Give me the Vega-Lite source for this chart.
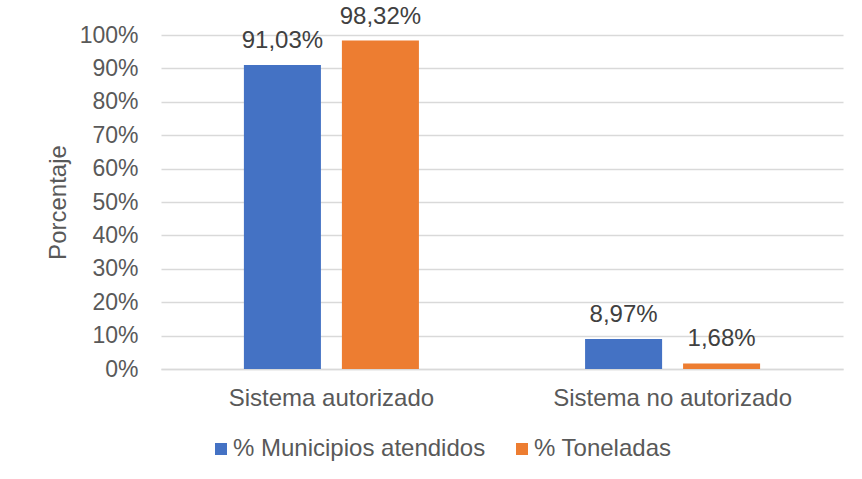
{
  "$schema": "https://vega.github.io/schema/vega-lite/v6.json",
  "width": 682,
  "height": 334,
  "autosize": {"type": "none"},
  "padding": {"left": 161, "top": 35, "right": 19, "bottom": 110},
  "background": "white",
  "config": {
    "locale": {"number": {"decimal": ",", "thousands": ".", "grouping": [3], "currency": ["", " €"]}},
    "view": {"stroke": null},
    "font": "Liberation Sans",
    "text": {"font": "Liberation Sans"}
  },
  "data": {
    "values": [
      {"sistema": "Sistema autorizado", "serie": "% Municipios atendidos", "valor": 0.9103},
      {"sistema": "Sistema autorizado", "serie": "% Toneladas", "valor": 0.9832},
      {"sistema": "Sistema no autorizado", "serie": "% Municipios atendidos", "valor": 0.0897},
      {"sistema": "Sistema no autorizado", "serie": "% Toneladas", "valor": 0.0168}
    ]
  },
  "encoding": {
    "x": {
      "field": "sistema", "type": "nominal", "sort": null,
      "scale": {"paddingInner": 0.487, "paddingOuter": 0.243},
      "axis": {"title": null, "labelAngle": 0, "labelFontSize": 24, "labelColor": "#595959", "labelPadding": 17, "labelLimit": 0, "ticks": false, "domain": true, "domainColor": "#d9d9d9", "domainWidth": 1.5, "labelFont": "Liberation Sans"}
    },
    "xOffset": {
      "field": "serie", "type": "nominal", "sort": null,
      "scale": {"paddingInner": 0.214, "paddingOuter": 0}
    },
    "y": {
      "field": "valor", "type": "quantitative",
      "scale": {"domain": [0, 1], "nice": false},
      "axis": {"title": "Porcentaje", "format": ".0%", "values": [0, 0.1, 0.2, 0.3, 0.4, 0.5, 0.6, 0.7, 0.8, 0.9, 1], "labelFontSize": 23, "labelColor": "#595959", "labelPadding": 23, "ticks": false, "domain": false, "grid": true, "gridColor": "#d9d9d9", "gridWidth": 1.5, "titleFontSize": 24, "titleFontWeight": "normal", "titleColor": "#595959", "titleX": -103, "titleY": 167, "titleAngle": -90, "titleBaseline": "middle", "titleAlign": "center", "labelFont": "Liberation Sans", "titleFont": "Liberation Sans"}
    }
  },
  "layer": [
    {
      "mark": {"type": "bar"},
      "encoding": {
        "color": {
          "field": "serie", "type": "nominal", "sort": null,
          "scale": {"range": ["#4472C4", "#ED7D31"]},
          "legend": {"title": null, "orient": "none", "direction": "horizontal", "legendX": 48, "legendY": 402, "symbolType": "square", "symbolSize": 144, "symbolStrokeWidth": 0, "labelFontSize": 24, "labelColor": "#595959", "labelOffset": 0, "labelLimit": 0, "columnPadding": 24, "padding": 0, "labelFont": "Liberation Sans"}
        }
      }
    },
    {
      "mark": {"type": "text", "baseline": "alphabetic", "dy": -17, "fontSize": 24, "color": "#404040", "font": "Liberation Sans"},
      "encoding": {
        "text": {"field": "valor", "type": "quantitative", "format": ".2%"}
      }
    }
  ]
}
